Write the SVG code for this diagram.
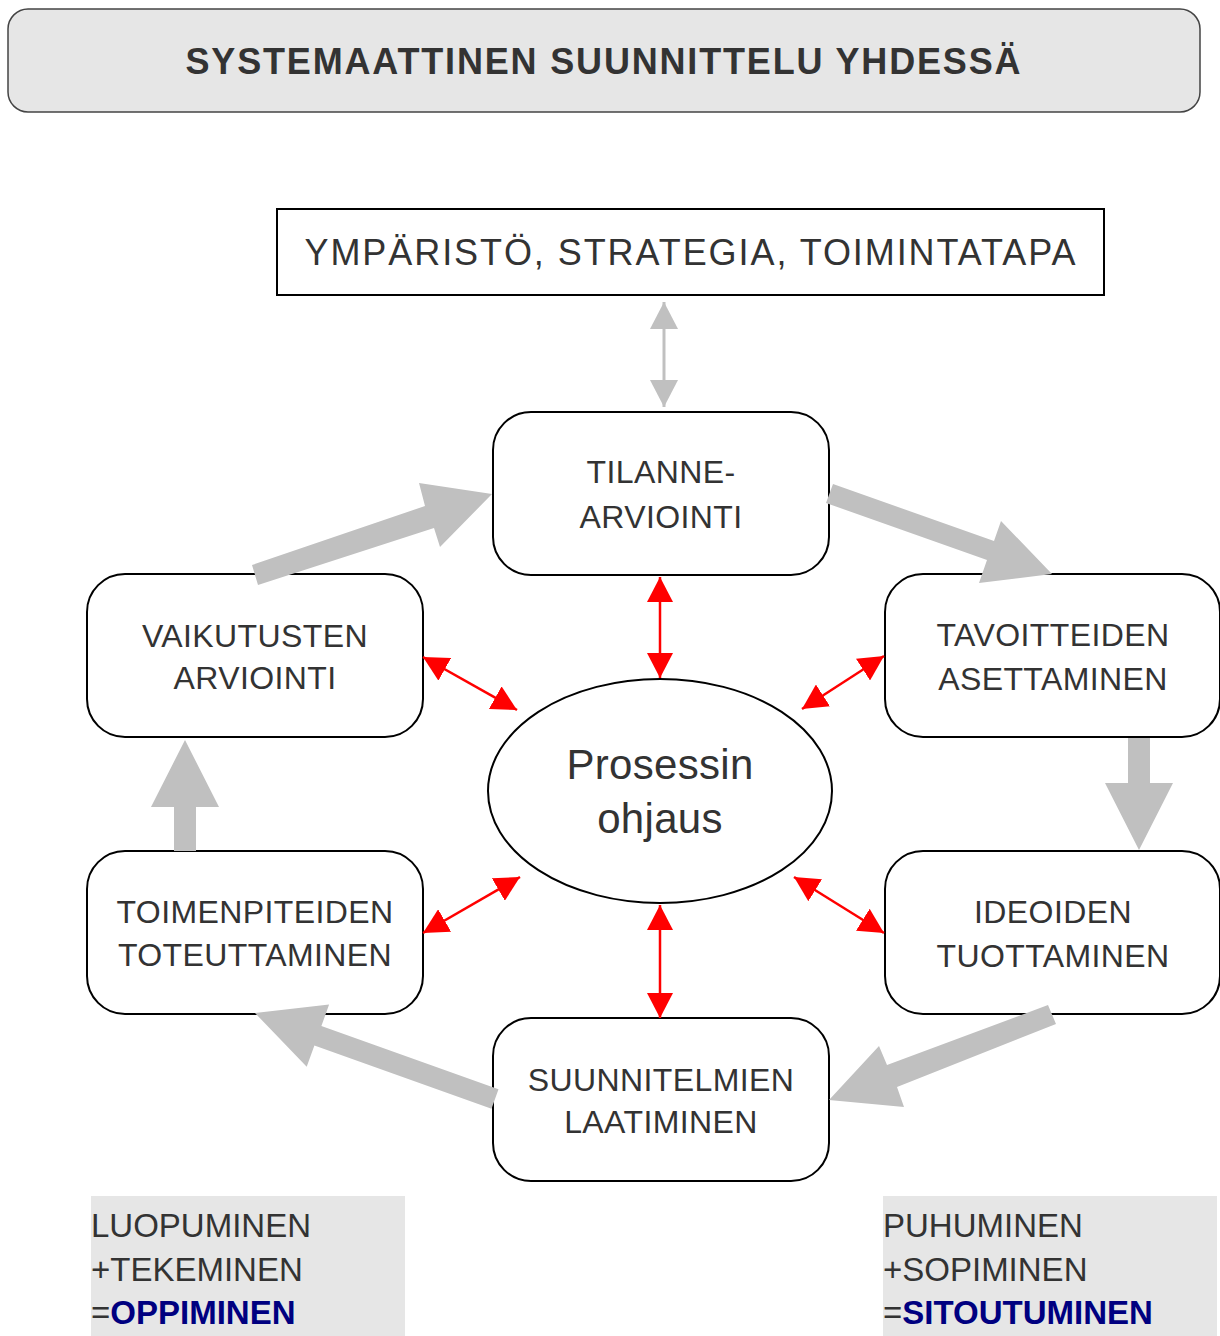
<svg xmlns="http://www.w3.org/2000/svg" width="1220" height="1336" viewBox="0 0 1220 1336">
<defs>
<style>
.node{fill:#fff;stroke:#000;stroke-width:2}
.t{font-family:"Liberation Sans",Arial,sans-serif;font-size:32px;fill:#333;text-anchor:middle;letter-spacing:0.4px}
.big{fill:#c0c0c0}
.red{stroke:#f00;stroke-width:2.5;fill:none}
.grey{stroke:#c0c0c0;stroke-width:3;fill:none}
.side{font-family:"Liberation Sans",Arial,sans-serif;font-size:33px;fill:#333}
.b{font-weight:bold;fill:#000080}
</style>
<marker id="rh" viewBox="0 0 25 26" refX="25" refY="13" markerWidth="25" markerHeight="26" markerUnits="userSpaceOnUse" orient="auto-start-reverse">
<path d="M0,0 L25,13 L0,26 Z" fill="#f00"/>
</marker>
<marker id="gh" viewBox="0 0 27 28" refX="27" refY="14" markerWidth="27" markerHeight="28" markerUnits="userSpaceOnUse" orient="auto-start-reverse">
<path d="M0,0 L27,14 L0,28 Z" fill="#c0c0c0"/>
</marker>
</defs>
<rect width="1220" height="1336" fill="#fff"/>

<g id="title">
<rect x="8" y="9" width="1192" height="103" rx="20" ry="20" fill="#e6e6e6" stroke="#444" stroke-width="1.5"/>
<text x="603" y="74" font-family="Liberation Sans, Arial, sans-serif" font-size="36" font-weight="bold" fill="#333" text-anchor="middle" textLength="835" lengthAdjust="spacing">SYSTEMAATTINEN SUUNNITTELU YHDESSÄ</text>
</g>

<g id="environment">
<rect x="277" y="209" width="827" height="86" fill="#fff" stroke="#000" stroke-width="2"/>
<text x="690" y="265" font-family="Liberation Sans, Arial, sans-serif" font-size="36" fill="#333" text-anchor="middle" textLength="771" lengthAdjust="spacing">YMPÄRISTÖ, STRATEGIA, TOIMINTATAPA</text>
</g>

<g id="tilannearviointi">
<rect class="node" x="493" y="412" width="336" height="163" rx="38" ry="38"/>
<text class="t" x="661" y="483">TILANNE-</text>
<text class="t" x="661" y="528">ARVIOINTI</text>
</g>
<g id="tavoitteiden">
<rect class="node" x="885" y="574" width="335" height="163" rx="38" ry="38"/>
<text class="t" x="1053" y="646">TAVOITTEIDEN</text>
<text class="t" x="1053" y="690">ASETTAMINEN</text>
</g>
<g id="ideoiden">
<rect class="node" x="885" y="851" width="335" height="163" rx="38" ry="38"/>
<text class="t" x="1053" y="923">IDEOIDEN</text>
<text class="t" x="1053" y="967">TUOTTAMINEN</text>
</g>
<g id="suunnitelmien">
<rect class="node" x="493" y="1018" width="336" height="163" rx="38" ry="38"/>
<text class="t" x="661" y="1091">SUUNNITELMIEN</text>
<text class="t" x="661" y="1133">LAATIMINEN</text>
</g>
<g id="toimenpiteiden">
<rect class="node" x="87" y="851" width="336" height="163" rx="38" ry="38"/>
<text class="t" x="255" y="923">TOIMENPITEIDEN</text>
<text class="t" x="255" y="966">TOTEUTTAMINEN</text>
</g>
<g id="vaikutusten">
<rect class="node" x="87" y="574" width="336" height="163" rx="38" ry="38"/>
<text class="t" x="255" y="647">VAIKUTUSTEN</text>
<text class="t" x="255" y="689">ARVIOINTI</text>
</g>
<g id="prosessin">
<ellipse cx="660" cy="791" rx="172" ry="112" fill="#fff" stroke="#000" stroke-width="2"/>
<text x="660" y="779" font-family="Liberation Sans, Arial, sans-serif" font-size="42" fill="#333" text-anchor="middle" letter-spacing="0.3">Prosessin</text>
<text x="660" y="833" font-family="Liberation Sans, Arial, sans-serif" font-size="42" fill="#333" text-anchor="middle" letter-spacing="0.3">ohjaus</text>
</g>

<g id="connectors">
<line class="grey" x1="664" y1="302" x2="664" y2="407" marker-start="url(#gh)" marker-end="url(#gh)"/>
<polygon class="big" points="252,565 425,506 419,483 492,494 440,547 434,528 258,585"/>
<polygon class="big" points="833,484 994,541 1001,521 1052,574 979,583 987,560 826,503"/>
<polygon class="big" points="1128,738 1150,738 1150,783 1173,783 1139,850 1105,783 1128,783"/>
<polygon class="big" points="1048,1005 1056,1024 897,1087 904,1107 829,1100 879,1046 887,1065"/>
<polygon class="big" points="498.5,1089.3 321.4,1026 329.1,1004.6 255,1013 306.7,1066.8 314.4,1045.4 491.5,1108.7"/>
<polygon class="big" points="174,851 196,851 196,807 219,807 185,740 151,807 174,807"/>
<line class="red" x1="660" y1="577" x2="660" y2="678" marker-start="url(#rh)" marker-end="url(#rh)"/>
<line class="red" x1="660" y1="905" x2="660" y2="1018" marker-start="url(#rh)" marker-end="url(#rh)"/>
<line class="red" x1="423" y1="657" x2="517" y2="710" marker-start="url(#rh)" marker-end="url(#rh)"/>
<line class="red" x1="884" y1="656" x2="802" y2="709" marker-start="url(#rh)" marker-end="url(#rh)"/>
<line class="red" x1="423" y1="933" x2="520" y2="877" marker-start="url(#rh)" marker-end="url(#rh)"/>
<line class="red" x1="794" y1="877" x2="884" y2="933" marker-start="url(#rh)" marker-end="url(#rh)"/>
</g>

<g id="oppiminen">
<rect x="91" y="1196" width="314" height="140" fill="#e6e6e6"/>
<text class="side" x="91" y="1237">LUOPUMINEN</text>
<text class="side" x="91" y="1281">+TEKEMINEN</text>
<text class="side" x="91" y="1324">=<tspan class="b">OPPIMINEN</tspan></text>
</g>
<g id="sitoutuminen">
<rect x="883" y="1196" width="334" height="140" fill="#e6e6e6"/>
<text class="side" x="883" y="1237">PUHUMINEN</text>
<text class="side" x="883" y="1281">+SOPIMINEN</text>
<text class="side" x="883" y="1324">=<tspan class="b">SITOUTUMINEN</tspan></text>
</g>
</svg>
